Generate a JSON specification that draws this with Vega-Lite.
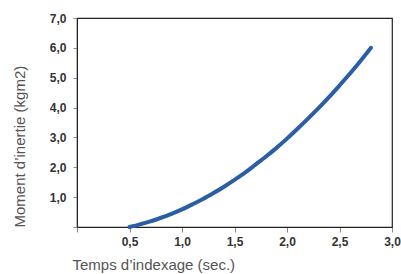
{
  "$schema": "https://vega.github.io/schema/vega-lite/v6.json",
  "autosize": "none",
  "width": 315,
  "height": 209,
  "padding": {"left": 77, "top": 18, "right": 9, "bottom": 47},
  "background": "white",
  "config": {
    "font": "Liberation Sans",
    "view": {"stroke": "#222", "strokeWidth": 1.2}
  },
  "data": {
    "values": [
      {"t": 0.5, "i": 0},
      {"t": 0.6, "i": 0.09},
      {"t": 0.7, "i": 0.19},
      {"t": 0.8, "i": 0.31},
      {"t": 0.9, "i": 0.44},
      {"t": 1.0, "i": 0.59},
      {"t": 1.1, "i": 0.76},
      {"t": 1.2, "i": 0.94},
      {"t": 1.3, "i": 1.14},
      {"t": 1.4, "i": 1.35},
      {"t": 1.5, "i": 1.58},
      {"t": 1.6, "i": 1.82},
      {"t": 1.7, "i": 2.09},
      {"t": 1.8, "i": 2.36},
      {"t": 1.9, "i": 2.65},
      {"t": 2.0, "i": 2.96},
      {"t": 2.1, "i": 3.29},
      {"t": 2.2, "i": 3.63},
      {"t": 2.3, "i": 3.98},
      {"t": 2.4, "i": 4.35},
      {"t": 2.5, "i": 4.74},
      {"t": 2.6, "i": 5.14},
      {"t": 2.7, "i": 5.56},
      {"t": 2.8, "i": 6.0}
    ]
  },
  "mark": {"type": "line", "color": "#2a5fa5", "strokeWidth": 4, "strokeCap": "round", "interpolate": "monotone", "clip": false},
  "encoding": {
    "x": {
      "field": "t", "type": "quantitative",
      "scale": {"domain": [0, 3], "nice": false, "zero": false},
      "axis": {
        "values": [0, 0.5, 1, 1.5, 2, 2.5, 3],
        "labelExpr": "datum.value == 0 ? '' : replace(format(datum.value, '.1f'), '.', ',')",
        "grid": false,
        "domainColor": "#222",
        "tickColor": "#888",
        "tickSize": 5,
        "labelFont": "Liberation Sans",
        "labelFontWeight": "bold",
        "labelFontSize": 12,
        "labelColor": "#333",
        "labelPadding": 4,
        "labelFlush": false,
        "title": "Temps d’indexage (sec.)",
        "titleFont": "Liberation Sans",
        "titleFontWeight": "normal",
        "titleFontSize": 15,
        "titleColor": "#555",
        "titleAnchor": "start",
        "titleAlign": "left",
        "titleX": -5,
        "titlePadding": 10
      }
    },
    "y": {
      "field": "i", "type": "quantitative",
      "scale": {"domain": [0, 7], "nice": false},
      "axis": {
        "values": [0, 1, 2, 3, 4, 5, 6, 7],
        "labelExpr": "datum.value == 0 ? '' : replace(format(datum.value, '.1f'), '.', ',')",
        "grid": false,
        "domainColor": "#222",
        "tickColor": "#888",
        "tickSize": 4,
        "labelFont": "Liberation Sans",
        "labelFontWeight": "bold",
        "labelFontSize": 12,
        "labelColor": "#333",
        "labelPadding": 7,
        "title": "Moment d’inertie (kgm2)",
        "titleFont": "Liberation Sans",
        "titleFontWeight": "normal",
        "titleFontSize": 15,
        "titleColor": "#555",
        "titleAnchor": "start",
        "titlePadding": 22
      }
    }
  }
}
